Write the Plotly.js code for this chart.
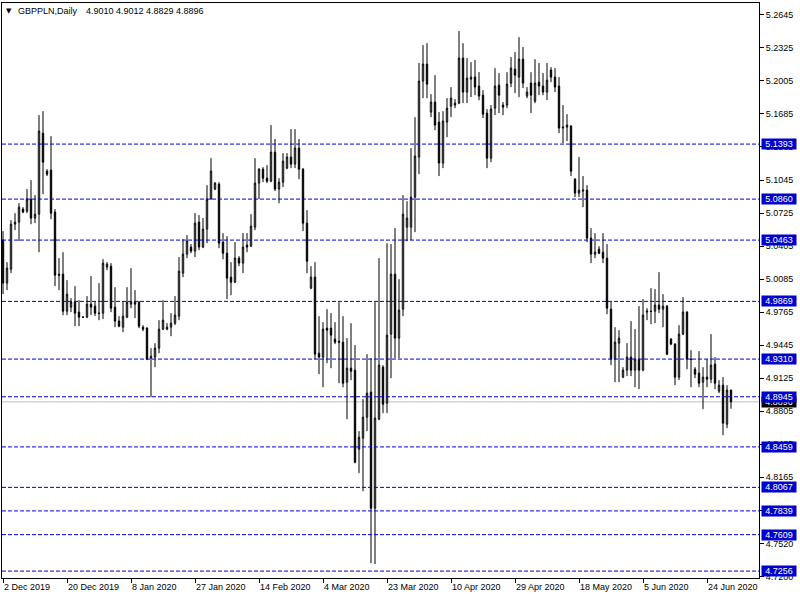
<!DOCTYPE html>
<html><head><meta charset="utf-8">
<script src="https://cdn.plot.ly/plotly-3.0.1.min.js"></script>
<style>html,body{margin:0;padding:0;background:#fff}#chart{width:800px;height:600px}</style>
</head><body><div id="chart"></div>
<script>
const symbolTitle = 'GBPPLN,Daily';
const lastOHLC = '4.9010 4.9012 4.8829 4.8896';

const open = [
5.0462,5.0046,5.0181,5.0617,5.0637,5.0763,5.0743,5.0860,5.0676,5.0714,
5.1499,5.1131,5.1141,5.0734,5.0133,5.0133,4.9774,4.9813,4.9862,4.9765,
4.9716,4.9716,4.9842,4.9823,4.9755,4.9755,5.0201,5.0210,4.9813,4.9678,
4.9619,4.9716,4.9842,4.9842,4.9862,4.9619,4.9610,4.9319,4.9329,4.9416,
4.9600,4.9600,4.9619,4.9658,4.9726,5.0143,5.0327,5.0395,5.0356,5.0637,
5.0395,5.0569,5.0860,5.0957,5.1005,5.0443,5.0336,5.0104,5.0055,5.0288,
5.0240,5.0414,5.0404,5.0588,5.1015,5.1150,5.1063,5.1034,5.1315,5.0957,
5.1024,5.1160,5.1267,5.1199,5.1354,5.1150,5.0627,4.9997,5.0104,4.9367,
4.9329,4.9610,4.9610,4.9503,4.9484,4.9474,4.9086,4.9222,4.9203,4.8437,
4.8544,4.8747,4.8990,4.7865,4.8728,4.9232,4.8883,4.9552,5.0133,4.9513,
4.9794,5.0588,5.0588,5.0879,5.1267,5.2003,5.2168,5.1703,5.1800,5.1606,
5.1209,5.1606,5.1761,5.1771,5.1790,5.2226,5.1897,5.2022,5.2042,5.1955,
5.1867,5.1693,5.1257,5.1741,5.1964,5.1771,5.1771,5.1984,5.2119,5.2042,
5.2216,5.1858,5.1984,5.1809,5.1993,5.1955,5.1897,5.2110,5.2042,5.1955,
5.1548,5.1557,5.1567,5.1053,5.0918,5.0937,5.0947,5.0482,5.0327,5.0375,
5.0346,5.0288,4.9794,4.9309,4.9464,4.9135,4.9203,4.9329,4.9203,4.9309,
4.9203,4.9765,4.9774,4.9774,4.9833,4.9794,4.9823,4.9503,4.9455,4.9135,
4.9552,4.9765,4.9309,4.9212,4.9174,4.9086,4.9135,4.9115,4.9261,4.8999,
4.9057,4.8679,4.9010];

const high = [
5.0550,5.0249,5.0656,5.0724,5.0821,5.0782,5.0957,5.1044,5.0898,5.1674,
5.1712,5.1150,5.1470,5.0763,5.0288,5.0346,5.0075,4.9900,5.0017,4.9881,
4.9726,4.9920,5.0114,4.9871,5.0046,5.0278,5.0249,5.0240,5.0007,4.9726,
4.9871,5.0007,5.0191,4.9978,4.9871,4.9639,4.9619,4.9416,4.9464,4.9687,
4.9881,4.9658,4.9755,4.9920,5.0298,5.0472,5.0511,5.0424,5.0724,5.0705,
5.0676,5.0995,5.1257,5.1024,5.1024,5.0530,5.0501,5.0249,5.0443,5.0307,
5.0530,5.0530,5.0714,5.1257,5.1160,5.1170,5.1189,5.1577,5.1441,5.1063,
5.1305,5.1305,5.1538,5.1538,5.1441,5.1160,5.0753,5.0210,5.0249,4.9726,
4.9668,4.9794,4.9755,4.9668,4.9862,4.9726,4.9513,4.9658,4.9445,4.8612,
4.8922,4.9358,4.9319,4.9862,5.0288,4.9251,5.0433,5.0424,5.0579,5.0084,
5.0898,5.0840,5.1354,5.1654,5.2178,5.2352,5.2371,5.1877,5.2061,5.1703,
5.1712,5.1838,5.1945,5.1829,5.2488,5.2371,5.2226,5.2187,5.2207,5.2090,
5.1916,5.1732,5.1771,5.2129,5.2081,5.1800,5.2090,5.2236,5.2284,5.2429,
5.2333,5.1945,5.2090,5.2216,5.2178,5.2081,5.2178,5.2139,5.2129,5.2042,
5.1771,5.1683,5.1577,5.1063,5.1267,5.1083,5.0995,5.0579,5.0530,5.0404,
5.0530,5.0424,4.9862,4.9619,4.9590,4.9232,4.9464,4.9678,4.9600,4.9823,
4.9891,4.9803,4.9997,4.9988,5.0152,4.9939,4.9833,4.9513,4.9464,4.9639,
4.9910,4.9774,4.9396,4.9232,4.9387,4.9232,4.9309,4.9552,4.9329,4.9106,
4.9135,4.9057,4.9012];

const low = [
4.9939,4.9978,5.0143,5.0559,5.0453,5.0724,5.0724,5.0617,5.0627,5.0346,
5.0908,5.1083,5.0666,5.0017,4.9978,4.9736,4.9736,4.9765,4.9629,4.9629,
4.9707,4.9707,4.9736,4.9726,4.9687,4.9697,5.0172,4.9765,4.9619,4.9619,
4.9571,4.9707,4.9803,4.9707,4.9610,4.9581,4.9300,4.8941,4.9232,4.9367,
4.9590,4.9590,4.9532,4.9639,4.9687,5.0104,5.0288,5.0336,5.0298,5.0365,
5.0385,5.0433,5.0858,5.0947,5.0385,5.0278,4.9891,4.9929,5.0046,5.0210,
5.0143,5.0346,5.0395,5.0559,5.0860,5.1024,5.1015,5.1024,5.0937,5.0821,
5.0976,5.1150,5.1160,5.1160,5.1053,5.0550,5.0143,4.9988,4.9309,4.9164,
4.9038,4.9271,4.9222,4.9455,4.9077,4.9038,4.8728,4.9106,4.8300,4.8205,
4.8030,4.8612,4.7333,4.7323,4.8718,4.8786,4.8786,4.9125,4.9319,4.9319,
4.9726,5.0453,5.0462,5.0540,5.1102,5.1838,5.1838,5.1654,5.1528,5.1083,
5.1160,5.1460,5.1654,5.1741,5.1780,5.1790,5.1790,5.1848,5.1867,5.1819,
5.1645,5.1160,5.1218,5.1674,5.1693,5.1674,5.1741,5.1945,5.1887,5.1848,
5.1935,5.1838,5.1693,5.1790,5.1867,5.1867,5.1819,5.1993,5.1897,5.1499,
5.1402,5.1422,5.1083,5.0879,5.0879,5.0782,5.0443,5.0240,5.0288,5.0327,
5.0240,4.9745,4.9251,4.9086,4.9086,4.9125,4.9145,4.9145,4.9038,4.9019,
4.9193,4.9687,4.9648,4.9658,4.9755,4.9619,4.9348,4.9445,4.9057,4.9106,
4.9542,4.9212,4.9038,4.9125,4.9038,4.8825,4.9038,4.9077,4.9019,4.8980,
4.8573,4.8641,4.8829];

const close = [
5.0046,5.0191,5.0617,5.0637,5.0782,5.0734,5.0860,5.0676,5.0714,5.1519,
5.1218,5.1102,5.0724,5.0123,5.0123,4.9774,4.9939,4.9862,4.9755,4.9716,
4.9716,4.9842,4.9813,4.9755,4.9752,5.0240,5.0230,4.9803,4.9678,4.9629,
4.9726,4.9862,4.9862,4.9862,4.9629,4.9600,4.9309,4.9338,4.9416,4.9600,
4.9687,4.9619,4.9658,4.9736,5.0162,5.0327,5.0453,5.0356,5.0627,5.0395,
5.0569,5.0860,5.1131,5.1015,5.0433,5.0336,5.0094,5.0055,5.0288,5.0240,
5.0395,5.0395,5.0598,5.1015,5.1150,5.1063,5.1034,5.1315,5.0957,5.1024,
5.1228,5.1267,5.1199,5.1354,5.1150,5.0627,5.0259,5.0104,4.9358,4.9329,
4.9600,4.9590,4.9542,4.9474,4.9474,4.9077,4.9222,4.9193,4.8311,4.8553,
4.8747,4.8980,4.7865,4.8738,4.9251,4.8873,4.9542,5.0133,4.9513,4.9784,
5.0714,5.0676,5.0879,5.1276,5.2003,5.2168,5.1974,5.1800,5.1577,5.1209,
5.1616,5.1741,5.1838,5.1790,5.2226,5.1897,5.2032,5.2042,5.1945,5.1858,
5.1683,5.1257,5.1732,5.1955,5.1867,5.1751,5.1974,5.2129,5.2061,5.2216,
5.1984,5.1897,5.1867,5.1984,5.1955,5.1897,5.2013,5.2042,5.1945,5.1548,
5.1557,5.1577,5.1131,5.0918,5.0947,5.0947,5.0482,5.0327,5.0346,5.0336,
5.0288,4.9803,4.9309,4.9474,4.9513,4.9203,4.9329,4.9203,4.9309,4.9203,
4.9736,4.9774,4.9772,4.9833,4.9794,4.9823,4.9358,4.9455,4.9135,4.9552,
4.9765,4.9309,4.9307,4.9164,4.9077,4.9135,4.9115,4.9251,4.9077,4.9057,
4.8689,4.9009,4.8896];

const dateTickIndex = [0,16,32,48,64,80,96,112,128,144,160,176];
const dateTickLabels = ['2 Dec 2019','20 Dec 2019','8 Jan 2020','27 Jan 2020','14 Feb 2020','4 Mar 2020',
  '23 Mar 2020','10 Apr 2020','29 Apr 2020','18 May 2020','5 Jun 2020','24 Jun 2020'];

const priceTickValues = [5.2645,5.2325,5.2005,5.1685,5.1365,5.1045,5.0725,5.0405,5.0085,4.9765,
  4.9445,4.9125,4.8805,4.8485,4.8165,4.7845,4.7520,4.7200];
const priceTickLabels = ['5.2645','5.2325','5.2005','5.1685','5.1365','5.1045','5.0725','5.0405','5.0085','4.9765',
  '4.9445','4.9125','4.8805','4.8485','4.8165','4.7845','4.7520','4.7200'];

const levelLines = [5.1393,5.0860,5.0463,4.9869,4.9310,4.8945,4.8459,4.8067,4.7839,4.7609,4.7256];
const bidPrice = 4.8896;

const barIndex = open.map((_, i) => i);

const FONT = 'Liberation Sans, Arial, sans-serif';
const LEVEL_BLUE = '#0000cd';

const trace = {
  type: 'candlestick',
  x: barIndex, open: open, high: high, low: low, close: close,
  increasing: {line: {color: '#000', width: 1}, fillcolor: '#ffffff'},
  decreasing: {line: {color: '#000', width: 1}, fillcolor: '#000000'},
  whiskerwidth: 0,
  hoverinfo: 'skip',
  showlegend: false
};

const shapes = [];
shapes.push({type: 'line', xref: 'paper', x0: 0, x1: 1, yref: 'y', y0: bidPrice, y1: bidPrice,
  line: {color: '#c0c0c0', width: 1}, layer: 'below'});
levelLines.forEach(v => shapes.push({type: 'line', xref: 'paper', x0: 0, x1: 1, yref: 'y', y0: v, y1: v,
  line: {color: LEVEL_BLUE, width: 1, dash: '4px,2px'}, layer: 'above'}));

const annotations = [];
annotations.push({xref: 'paper', yref: 'paper', x: 0, y: 1, xanchor: 'left', yanchor: 'top', xshift: 2, yshift: -2,
  text: '\u25BC', showarrow: false, font: {family: 'DejaVu Sans', size: 7, color: '#000'}});
annotations.push({xref: 'paper', yref: 'paper', x: 0, y: 1, xanchor: 'left', yanchor: 'top', xshift: 14, yshift: -1,
  text: symbolTitle, showarrow: false, font: {family: FONT, size: 9, color: '#000'}});
annotations.push({xref: 'paper', yref: 'paper', x: 0, y: 1, xanchor: 'left', yanchor: 'top', xshift: 82, yshift: -1,
  text: lastOHLC, showarrow: false, font: {family: FONT, size: 9, color: '#000'}});

annotations.push({xref: 'paper', yref: 'y', x: 1, y: bidPrice, xanchor: 'left', yanchor: 'middle', xshift: 2,
  text: bidPrice.toFixed(4), showarrow: false, bgcolor: '#000000', width: 34, height: 10, borderpad: 0,
  font: {family: FONT, size: 9, color: '#ffffff'}});
levelLines.forEach(v => annotations.push({xref: 'paper', yref: 'y', x: 1, y: v, xanchor: 'left', yanchor: 'middle', xshift: 2,
  text: v.toFixed(4), showarrow: false, bgcolor: LEVEL_BLUE, width: 34, height: 10, borderpad: 0,
  font: {family: FONT, size: 9, color: '#ffffff'}}));

const layout = {
  width: 800, height: 600,
  margin: {l: 2, r: 41, t: 3, b: 22, pad: 0},
  paper_bgcolor: '#ffffff', plot_bgcolor: '#ffffff',
  showlegend: false,
  boxgap: 0.5,
  font: {family: FONT, size: 9, color: '#000'},
  xaxis: {
    range: [-0.25, 189], tickmode: 'array', tickvals: dateTickIndex, ticktext: dateTickLabels,
    ticks: 'outside', ticklen: 4, tickcolor: '#000', tickwidth: 1,
    showline: true, linecolor: '#000', linewidth: 1, mirror: true,
    showgrid: false, zeroline: false, rangeslider: {visible: false},
    ticklabelposition: 'outside right', tickfont: {family: FONT, size: 9, color: '#000'}, fixedrange: true
  },
  yaxis: {
    side: 'right', range: [4.7189, 5.2760], tickmode: 'array', tickvals: priceTickValues, ticktext: priceTickLabels,
    ticks: 'outside', ticklen: 4, tickcolor: '#000', tickwidth: 1,
    showline: true, linecolor: '#000', linewidth: 1, mirror: true,
    showgrid: false, zeroline: false, tickfont: {family: FONT, size: 9, color: '#000'}, fixedrange: true
  },
  shapes: shapes,
  annotations: annotations
};

Plotly.newPlot('chart', [trace], layout, {displayModeBar: false, staticPlot: true});
</script>
</body></html>
